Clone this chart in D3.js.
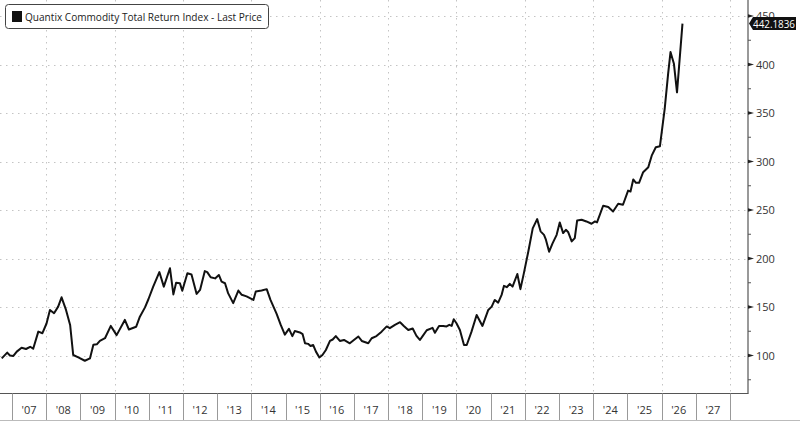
<!DOCTYPE html>
<html>
<head>
<meta charset="utf-8">
<script src="https://cdn.jsdelivr.net/npm/d3@7"></script>
<style>
  html, body { margin: 0; padding: 0; background: #fff; }
  svg { display: block; }
  text { font-family: "Open Sans", "Liberation Sans", sans-serif; }
</style>
</head>
<body>
<svg id="chart" width="800" height="421"></svg>
<script>
// ---- data ----
const seriesName = "Quantix Commodity Total Return Index - Last Price";
const lastLabel = "442.1836";
// decimal years
const dates = [
  2006.70, 2006.86, 2006.94, 2007.04, 2007.14, 2007.28, 2007.41, 2007.53, 2007.62, 2007.77,
  2007.89, 2008.01, 2008.11, 2008.23, 2008.35, 2008.45, 2008.58, 2008.70, 2008.79, 2008.94,
  2009.13, 2009.28, 2009.38, 2009.48, 2009.57, 2009.72, 2009.89, 2010.06, 2010.30, 2010.42,
  2010.63, 2010.74, 2010.89, 2010.99, 2011.13, 2011.31, 2011.44, 2011.62, 2011.72, 2011.80,
  2011.91, 2011.98, 2012.13, 2012.25, 2012.40, 2012.50, 2012.64, 2012.71, 2012.81, 2012.94,
  2013.05, 2013.13, 2013.23, 2013.32, 2013.47, 2013.62, 2013.72, 2013.86, 2014.06, 2014.13,
  2014.30, 2014.45, 2014.56, 2014.74, 2014.86, 2014.98, 2015.10, 2015.20, 2015.27, 2015.42,
  2015.50, 2015.57, 2015.66, 2015.73, 2015.81, 2015.89, 2015.99, 2016.08, 2016.18, 2016.30,
  2016.38, 2016.47, 2016.59, 2016.71, 2016.88, 2017.00, 2017.13, 2017.23, 2017.42, 2017.52,
  2017.66, 2017.81, 2017.96, 2018.05, 2018.20, 2018.35, 2018.46, 2018.59, 2018.72, 2018.83,
  2018.93, 2019.01, 2019.13, 2019.30, 2019.37, 2019.49, 2019.61, 2019.71, 2019.79, 2019.86,
  2019.92, 2020.00, 2020.10, 2020.22, 2020.30, 2020.44, 2020.59, 2020.76, 2020.93, 2021.03,
  2021.12, 2021.22, 2021.32, 2021.39, 2021.47, 2021.56, 2021.64, 2021.78, 2021.87, 2021.97,
  2022.10, 2022.23, 2022.36, 2022.46, 2022.56, 2022.61, 2022.71, 2022.81, 2022.93, 2023.02,
  2023.12, 2023.20, 2023.27, 2023.37, 2023.46, 2023.53, 2023.66, 2023.80, 2023.95, 2024.05,
  2024.11, 2024.29, 2024.44, 2024.58, 2024.73, 2024.87, 2025.02, 2025.09, 2025.17, 2025.25,
  2025.34, 2025.46, 2025.61, 2025.71, 2025.83, 2025.95, 2026.09, 2026.19, 2026.26, 2026.36,
  2026.45, 2026.61
];
const values = [
  97, 103, 100, 99.5, 104, 108, 106.7, 109, 107, 124.6,
  123, 133, 147, 143.6, 150.4, 160, 147, 131.5, 100.5, 98,
  94.6, 97, 111, 111.5, 115, 117.8, 130.5, 121, 136.7, 126.8,
  129.6, 140, 149.6, 158, 171, 186, 171, 190, 163, 175,
  174.6, 166.7, 184.7, 183.6, 163.5, 167.6, 187, 186, 180.6, 179.5,
  183, 176.2, 174.5, 164.3, 154, 167, 162.6, 161, 157.3, 166,
  167, 168.4, 157.3, 142.9, 131.5, 121.5, 127.5, 120, 125.2, 123.8,
  122, 112.6, 112, 109.8, 110.8, 104, 98, 100.5, 105.7, 115,
  116.5, 120, 115, 116, 112.6, 116, 119.6, 115, 112.6, 117.8,
  120, 124.6, 130, 128.2, 131.6, 134.3, 130.5, 126.3, 127.9, 120.2,
  116, 120, 126, 128.5, 123.4, 130.5, 130.5, 130, 131.6, 130.5,
  137.4, 133.3, 126.3, 110.8, 110.8, 124.6, 141.8, 130.5, 147, 150.4,
  157.3, 154.5, 162.5, 171.8, 170.4, 173.8, 171, 184, 168.4, 184.7,
  207, 231, 240.6, 228, 224.4, 220, 207, 215.6, 224.4, 237.2,
  226.2, 229.6, 227, 217.6, 221, 239.2, 240, 238.2, 235.8, 238.2,
  237.2, 254.4, 253, 248.5, 256.4, 255.4, 270, 269, 281.5, 278,
  278, 289, 294, 306, 314.7, 315.7, 354.3, 390.4, 412.8, 400.7,
  371.3, 442.1836
];
const years = d3.range(2007, 2028);            // labelled years
const yearLabels = years.map(y => "'" + String(y).slice(2));
const gridYears = d3.range(2008, 2029, 2);     // vertical dotted grid
const yTicks = [100, 150, 200, 250, 300, 350, 400, 450];
const yMinorTicks = [75, 125, 175, 225, 275, 325, 375, 425];

// ---- layout ----
const svg = d3.select("#chart");
const plotLeft = 0, plotRight = 748, plotTop = 0, plotBottom = 393.5, axisBottom = 420;

const x = d3.scaleLinear().domain([2007, 2028]).range([12, 730]);
const y = d3.scaleLinear().domain([100, 450]).range([355.5, 16]);

// grid
const grid = svg.append("g").attr("stroke", "#c4c4c4").attr("stroke-width", 1)
  .attr("stroke-dasharray", "1.5,4.5").attr("fill", "none");
grid.selectAll("line.h").data(yTicks).join("line").attr("class", "h")
  .attr("x1", plotLeft).attr("x2", plotRight)
  .attr("y1", d => Math.round(y(d)) + 0.5).attr("y2", d => Math.round(y(d)) + 0.5);
grid.selectAll("line.v").data(gridYears).join("line").attr("class", "v")
  .attr("x1", d => Math.round(x(d)) + 0.5).attr("x2", d => Math.round(x(d)) + 0.5)
  .attr("y1", plotTop).attr("y2", plotBottom);

// bottom axis band
const xa = svg.append("g");
xa.append("line").attr("x1", 0).attr("x2", plotRight + 0.5)
  .attr("y1", plotBottom).attr("y2", plotBottom).attr("stroke", "#555").attr("stroke-width", 1.2);
xa.append("line").attr("x1", 0).attr("x2", 800)
  .attr("y1", axisBottom + 0.5).attr("y2", axisBottom + 0.5).attr("stroke", "#bbb").attr("stroke-width", 1);
xa.selectAll("line.sep").data(years.concat([2028])).join("line").attr("class", "sep")
  .attr("x1", d => Math.round(x(d)) + 0.5).attr("x2", d => Math.round(x(d)) + 0.5)
  .attr("y1", plotBottom).attr("y2", axisBottom).attr("stroke", "#999").attr("stroke-width", 1);
xa.selectAll("text").data(years).join("text")
  .attr("x", d => x(d + 0.5)).attr("y", 414)
  .attr("text-anchor", "middle").attr("font-size", 11).attr("fill", "#333")
  .text((d, i) => yearLabels[i]);

// right axis
const ya = svg.append("g");
ya.append("line").attr("x1", plotRight).attr("x2", plotRight)
  .attr("y1", 0).attr("y2", plotBottom).attr("stroke", "#555").attr("stroke-width", 1.2);
ya.selectAll("path.maj").data(yTicks).join("path").attr("class", "maj")
  .attr("d", d => `M${plotRight},${y(d) - 1.8}L${plotRight + 6},${y(d)}L${plotRight},${y(d) + 1.8}Z`)
  .attr("fill", "#222");
ya.selectAll("line.min").data(yMinorTicks).join("line").attr("class", "min")
  .attr("x1", plotRight).attr("x2", plotRight + 3)
  .attr("y1", d => y(d)).attr("y2", d => y(d)).attr("stroke", "#555");
ya.selectAll("text").data(yTicks).join("text")
  .attr("x", plotRight + 8).attr("y", d => y(d) + 4)
  .attr("font-size", 11).attr("fill", "#333").text(d => d);

// line
const pts = dates.map((d, i) => [d, values[i]]);
svg.append("path").datum(pts)
  .attr("d", d3.line().x(d => x(d[0])).y(d => y(d[1])))
  .attr("fill", "none").attr("stroke", "#111").attr("stroke-width", 2)
  .attr("stroke-linejoin", "round");

// last price tag
const lastV = values[values.length - 1];
const ly = y(lastV);
const tag = svg.append("g");
tag.append("path")
  .attr("d", `M${plotRight + 1},${ly}L${plotRight + 5},${ly - 6.5}L796,${ly - 6.5}L796,${ly + 6.5}L${plotRight + 5},${ly + 6.5}Z`)
  .attr("fill", "#111");
tag.append("text").attr("x", plotRight + 5).attr("y", ly + 4)
  .attr("font-size", 11).attr("fill", "#fff")
  .attr("textLength", 42).attr("lengthAdjust", "spacingAndGlyphs")
  .text(lastLabel);

// legend
const lg = svg.append("g");
lg.append("rect").attr("x", 5.5).attr("y", 4.5).attr("width", 263).attr("height", 24)
  .attr("rx", 3).attr("fill", "#fff").attr("stroke", "#444").attr("stroke-width", 1);
lg.append("rect").attr("x", 12).attr("y", 11).attr("width", 10).attr("height", 11).attr("fill", "#111");
lg.append("text").attr("x", 25).attr("y", 20.5).attr("font-size", 11).attr("fill", "#222")
  .attr("textLength", 237).attr("lengthAdjust", "spacingAndGlyphs")
  .text(seriesName);
</script>
</body>
</html>
